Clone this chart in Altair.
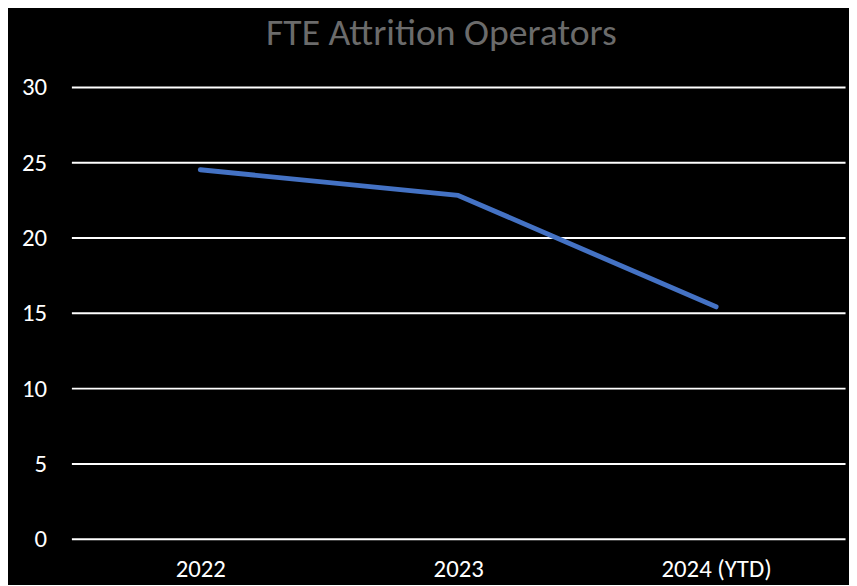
import altair as alt
import pandas as pd

years = ["2022", "2023", "2024 (YTD)"]
attrition = [24.5, 22.8, 15.4]

df = pd.DataFrame({"year": years, "value": attrition})

FONT = "Carlito, Lato, Open Sans, sans-serif"

chart = alt.Chart(df).mark_line(
    color="#4472C4", strokeWidth=5, strokeCap="round", strokeJoin="round"
).encode(
    x=alt.X("year:N", sort=years, axis=alt.Axis(
        title=None, labelAngle=0, domain=False, ticks=False, grid=False,
        labelFontSize=25, labelColor="#ffffff", labelPadding=18, labelFont=FONT)),
    y=alt.Y("value:Q", scale=alt.Scale(domain=[0, 30], nice=False), axis=alt.Axis(
        title=None, values=[0, 5, 10, 15, 20, 25, 30], domain=False, ticks=False,
        gridColor="#ffffff", gridWidth=2, gridOpacity=1,
        labelFontSize=25, labelColor="#ffffff", labelPadding=25, labelFont=FONT)),
).properties(
    width=781, height=456,
    autosize=alt.AutoSizeParams(type="none"),
    padding={"left": 64, "top": 77, "right": 4, "bottom": 44},
    background="#000000",
    title=alt.TitleParams("FTE Attrition Operators", fontSize=38, font=FONT,
                          color="#6b6b6b", fontWeight="normal", dx=-17, offset=22),
).configure_view(stroke=None)

chart.save("out.html", embed_options={"renderer": "svg", "actions": False})
